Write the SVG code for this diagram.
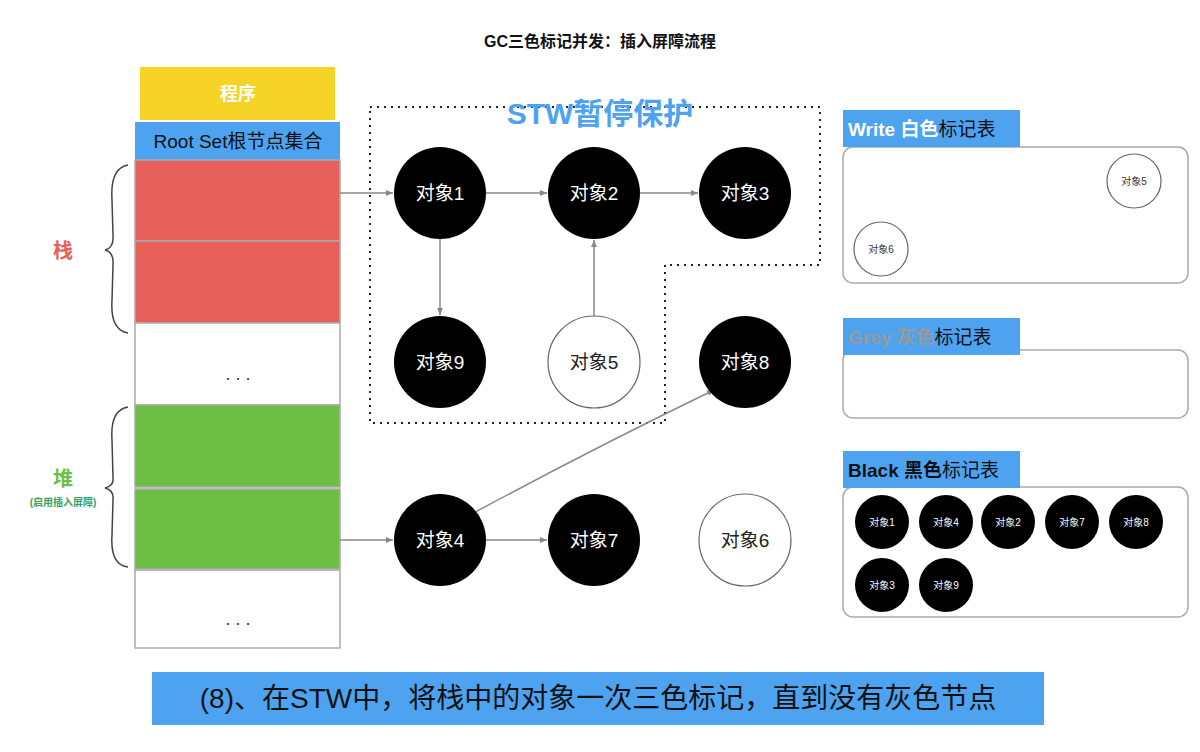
<svg xmlns="http://www.w3.org/2000/svg" width="1200" height="752" viewBox="0 0 1200 752">
<defs>
<marker id="ah" markerWidth="8" markerHeight="8" refX="7" refY="4" orient="auto" markerUnits="userSpaceOnUse"><path d="M0,1 L7,4 L0,7 Z" fill="#888"/></marker>
<style>
text{font-family:"Liberation Sans","Noto Sans CJK SC",sans-serif}
.bn{fill:#000}
.wn{fill:#fff;stroke:#666;stroke-width:1.2}
.bt{fill:#fff;font-size:19px;text-anchor:middle;dominant-baseline:central}
.wt{fill:#222;font-size:19px;text-anchor:middle;dominant-baseline:central}
.st{fill:#fff;font-size:10px;text-anchor:middle;dominant-baseline:central}
.sw{fill:#333;font-size:10px;text-anchor:middle;dominant-baseline:central}
.cell{stroke:#aaa;stroke-width:1.5}
.con{stroke:#888;stroke-width:1.5;fill:none;marker-end:url(#ah)}
.panel{fill:#fff;stroke:#aaa;stroke-width:1.5}
.lab{fill:#4DA3F0}
</style>
</defs>
<rect width="1200" height="752" fill="#fff"/>
<text x="600" y="47" text-anchor="middle" font-size="16" font-weight="bold" fill="#111">GC三色标记并发：插入屏障流程</text>

<g id="stack">
<rect x="140" y="67" width="195" height="53" fill="#F5D327"/>
<text x="238" y="100" text-anchor="middle" font-size="18" font-weight="bold" fill="#fff">程序</text>
<rect x="135" y="122" width="205" height="38" class="lab"/>
<text x="238" y="148" text-anchor="middle" font-size="19" fill="#111">Root Set根节点集合</text>
<rect x="135" y="160" width="205" height="81" fill="#E8605A" class="cell"/>
<rect x="135" y="241" width="205" height="82" fill="#E8605A" class="cell"/>
<rect x="135" y="323" width="205" height="82" fill="#fff" class="cell"/>
<text x="238" y="380" text-anchor="middle" font-size="18" fill="#333">. . .</text>
<rect x="135" y="405" width="205" height="82" fill="#6DBE45" class="cell"/>
<rect x="135" y="489" width="205" height="80" fill="#6DBE45" class="cell"/>
<rect x="135" y="570" width="205" height="78" fill="#fff" class="cell"/>
<text x="238" y="625" text-anchor="middle" font-size="18" fill="#333">. . .</text>
<path d="M128,165 Q110,168 112,200 L113,235 Q114,248 105,250 Q114,252 113,265 L112,300 Q110,330 128,333" fill="none" stroke="#444" stroke-width="1.5"/>
<path d="M128,407 Q110,410 112,440 L113,478 Q114,486 105,488 Q114,490 113,500 L112,535 Q110,565 128,567" fill="none" stroke="#444" stroke-width="1.5"/>
<text x="63" y="258" text-anchor="middle" font-size="20" font-weight="bold" fill="#E8605A">栈</text>
<text x="63" y="486" text-anchor="middle" font-size="20" font-weight="bold" fill="#6DBE45">堆</text>
<text x="63" y="506" text-anchor="middle" font-size="10" font-weight="bold" fill="#3AA060">(启用插入屏障)</text>
</g>

<g id="stw">
<polygon points="370,107 820,107 820,265 665,265 665,423 370,423" fill="none" stroke="#222" stroke-width="2" stroke-dasharray="2,5"/>
<text x="600" y="124" text-anchor="middle" font-size="30" font-weight="bold" fill="#4DA3F0">STW暂停保护</text>
</g>

<g id="connectors">
<line x1="340" y1="193" x2="393" y2="193" class="con"/>
<line x1="486" y1="193" x2="547" y2="193" class="con"/>
<line x1="640" y1="193" x2="698" y2="193" class="con"/>
<line x1="440" y1="239" x2="440" y2="315" class="con"/>
<line x1="594" y1="316" x2="594" y2="240" class="con"/>
<line x1="340" y1="540" x2="393" y2="540" class="con"/>
<line x1="486" y1="540" x2="547" y2="540" class="con"/>
<path d="M468,516 Q590,450 714,390" class="con"/>
</g>

<g id="n1"><circle cx="440" cy="193" r="46" class="bn"/><text x="440" y="193" class="bt">对象1</text></g>
<g id="n2"><circle cx="594" cy="193" r="46" class="bn"/><text x="594" y="193" class="bt">对象2</text></g>
<g id="n3"><circle cx="745" cy="193" r="46" class="bn"/><text x="745" y="193" class="bt">对象3</text></g>
<g id="n9"><circle cx="440" cy="362" r="46" class="bn"/><text x="440" y="362" class="bt">对象9</text></g>
<g id="n5"><circle cx="594" cy="362" r="46" class="wn"/><text x="594" y="362" class="wt">对象5</text></g>
<g id="n8"><circle cx="745" cy="362" r="46" class="bn"/><text x="745" y="362" class="bt">对象8</text></g>
<g id="n4"><circle cx="440" cy="540" r="46" class="bn"/><text x="440" y="540" class="bt">对象4</text></g>
<g id="n7"><circle cx="594" cy="540" r="46" class="bn"/><text x="594" y="540" class="bt">对象7</text></g>
<g id="n6"><circle cx="745" cy="540" r="46" class="wn"/><text x="745" y="540" class="wt">对象6</text></g>

<g id="white-table">
<rect x="843" y="147" width="345" height="136" rx="10" class="panel"/>
<rect x="843" y="110" width="177" height="37" class="lab"/>
<text x="848" y="136" font-size="19" font-weight="bold"><tspan fill="#fff">Write 白色</tspan><tspan fill="#111" font-weight="normal">标记表</tspan></text>
<circle cx="1134" cy="181" r="27" class="wn"/><text x="1134" y="181" class="sw">对象5</text>
<circle cx="881" cy="249" r="27" class="wn"/><text x="881" y="249" class="sw">对象6</text>
</g>

<g id="grey-table">
<rect x="843" y="350" width="345" height="68" rx="10" class="panel"/>
<rect x="843" y="318" width="177" height="37" class="lab"/>
<text x="848" y="344" font-size="19" font-weight="bold"><tspan fill="#999">Grey 灰色</tspan><tspan fill="#111" font-weight="normal">标记表</tspan></text>
</g>

<g id="black-table">
<rect x="843" y="487" width="345" height="130" rx="10" class="panel"/>
<rect x="843" y="451" width="177" height="37" class="lab"/>
<text x="848" y="477" font-size="19" font-weight="bold"><tspan fill="#111">Black 黑色</tspan><tspan fill="#111" font-weight="normal">标记表</tspan></text>
<circle cx="882" cy="522" r="27" class="bn"/><text x="882" y="522" class="st">对象1</text>
<circle cx="946" cy="522" r="27" class="bn"/><text x="946" y="522" class="st">对象4</text>
<circle cx="1008" cy="522" r="27" class="bn"/><text x="1008" y="522" class="st">对象2</text>
<circle cx="1072" cy="522" r="27" class="bn"/><text x="1072" y="522" class="st">对象7</text>
<circle cx="1136" cy="522" r="27" class="bn"/><text x="1136" y="522" class="st">对象8</text>
<circle cx="882" cy="585" r="27" class="bn"/><text x="882" y="585" class="st">对象3</text>
<circle cx="946" cy="585" r="27" class="bn"/><text x="946" y="585" class="st">对象9</text>
</g>

<g id="caption">
<rect x="152" y="672" width="892" height="53" fill="#4DA3F0"/>
<text x="598" y="708" text-anchor="middle" font-size="28" fill="#111">(8)、在STW中，将栈中的对象一次三色标记，直到没有灰色节点</text>
</g>
</svg>
